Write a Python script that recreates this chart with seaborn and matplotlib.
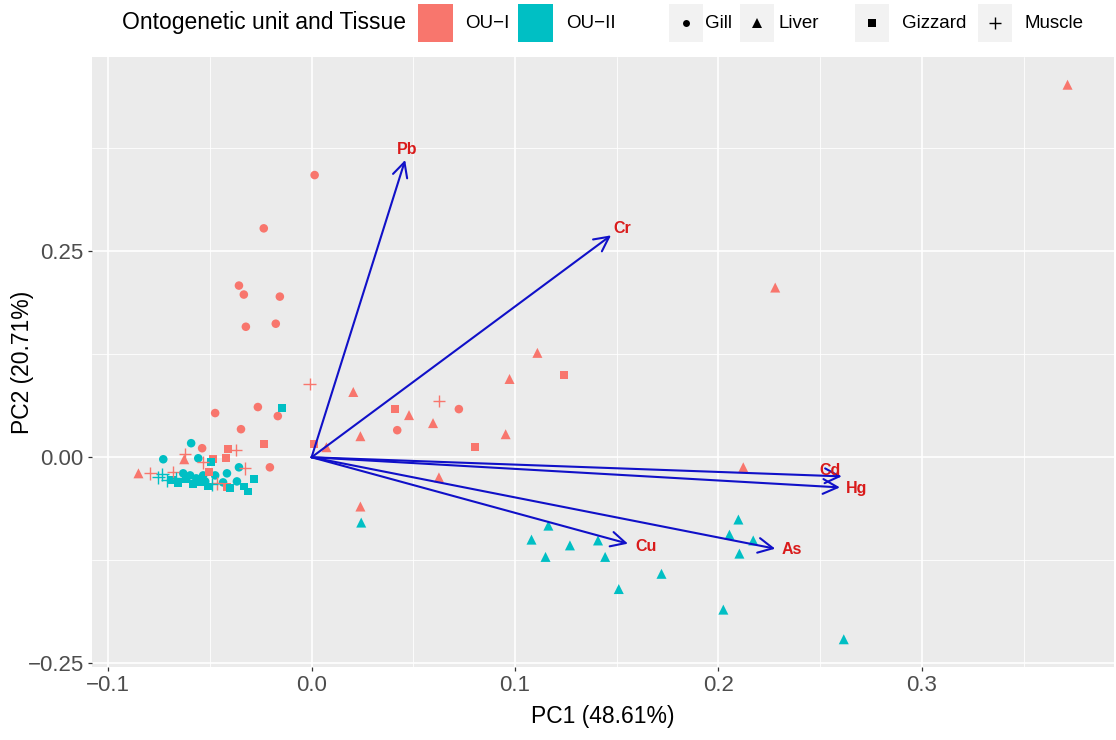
import numpy as np
import pandas as pd
import matplotlib
matplotlib.use("Agg")
import matplotlib.pyplot as plt
from matplotlib.patches import Rectangle
from matplotlib.lines import Line2D
import seaborn as sns

# ---------------- data ----------------
ou_levels = ["OU\u2212I", "OU\u2212II"]
tissue_levels = ["Gill", "Liver", "Gizzard", "Muscle"]

ou1_gill_pc1 = [0.0015, -0.0235, -0.0357, -0.0333, -0.0156, -0.0323, -0.0176, -0.0474, -0.0264, -0.0166, -0.0347, 0.0421, 0.0724, -0.0205, -0.0538]
ou1_gill_pc2 = [0.3427, 0.2780, 0.2085, 0.1976, 0.1951, 0.1585, 0.1622, 0.0537, 0.0610, 0.0500, 0.0341, 0.0329, 0.0585, -0.0122, 0.0110]

ou1_liver_pc1 = [0.3716, 0.2279, 0.1110, 0.0973, 0.0205, 0.0479, 0.0597, 0.0954, 0.0240, 0.0073, 0.2122, 0.0626, 0.0240, -0.0851, -0.0626]
ou1_liver_pc2 = [0.4524, 0.2061, 0.1268, 0.0951, 0.0793, 0.0512, 0.0415, 0.0280, 0.0256, 0.0122, -0.0122, -0.0244, -0.0598, -0.0195, -0.0024]

ou1_gizzard_pc1 = [0.1242, 0.0411, 0.0802, 0.0010, -0.0235, -0.0411, -0.0421, -0.0484, -0.0504, -0.0416]
ou1_gizzard_pc2 = [0.1000, 0.0585, 0.0122, 0.0159, 0.0159, 0.0098, -0.0012, -0.0024, -0.0183, -0.0366]

ou1_muscle_pc1 = [-0.0010, 0.0626, -0.0372, -0.0621, -0.0533, -0.0792, -0.0680, -0.0328, -0.0465]
ou1_muscle_pc2 = [0.0890, 0.0683, 0.0085, 0.0037, -0.0061, -0.0195, -0.0183, -0.0134, -0.0317]

ou2_gill_pc1 = [-0.0592, -0.0729, -0.0557, -0.0357, -0.0416, -0.0631, -0.0597, -0.0533, -0.0474, -0.0435, -0.0367, -0.0567, -0.0523]
ou2_gill_pc2 = [0.0171, -0.0024, -0.0012, -0.0122, -0.0195, -0.0195, -0.0220, -0.0220, -0.0220, -0.0305, -0.0293, -0.0256, -0.0293]

ou2_liver_pc1 = [0.1164, 0.1081, 0.1270, 0.1408, 0.1150, 0.1443, 0.1720, 0.1510, 0.2098, 0.2054, 0.2171, 0.2103, 0.2024, 0.2616, 0.0244]
ou2_liver_pc2 = [-0.0830, -0.1000, -0.1070, -0.1010, -0.1210, -0.1210, -0.1415, -0.1600, -0.0756, -0.0940, -0.1010, -0.1170, -0.1850, -0.2210, -0.0793]

ou2_gizzard_pc1 = [-0.0147, -0.0494, -0.0284, -0.0313, -0.0401, -0.0333, -0.0685, -0.0655, -0.0616, -0.0582, -0.0548, -0.0509]
ou2_gizzard_pc2 = [0.0598, -0.0061, -0.0268, -0.0415, -0.0378, -0.0354, -0.0280, -0.0317, -0.0268, -0.0329, -0.0305, -0.0354]

ou2_muscle_pc1 = [-0.0753, -0.0709, -0.0665, -0.0733, -0.0489]
ou2_muscle_pc2 = [-0.0244, -0.0280, -0.0256, -0.0207, -0.0329]

variables = ["Pb", "Cr", "Cd", "Hg", "As", "Cu"]
load_pc1 = [0.0460, 0.1472, 0.2606, 0.2597, 0.2279, 0.1555]
load_pc2 = [0.3610, 0.2695, -0.0232, -0.0366, -0.1110, -0.1049]

x_ticks = [-0.1, 0.0, 0.1, 0.2, 0.3]
y_ticks = [-0.25, 0.0, 0.25]
x_title = "PC1 (48.61%)"
y_title = "PC2 (20.71%)"
legend_title = "Ontogenetic unit and Tissue"

# ---------------- build table ----------------
groups = [
    (ou_levels[0], "Gill", ou1_gill_pc1, ou1_gill_pc2),
    (ou_levels[0], "Liver", ou1_liver_pc1, ou1_liver_pc2),
    (ou_levels[0], "Gizzard", ou1_gizzard_pc1, ou1_gizzard_pc2),
    (ou_levels[0], "Muscle", ou1_muscle_pc1, ou1_muscle_pc2),
    (ou_levels[1], "Gill", ou2_gill_pc1, ou2_gill_pc2),
    (ou_levels[1], "Liver", ou2_liver_pc1, ou2_liver_pc2),
    (ou_levels[1], "Gizzard", ou2_gizzard_pc1, ou2_gizzard_pc2),
    (ou_levels[1], "Muscle", ou2_muscle_pc1, ou2_muscle_pc2),
]
rows = []
for ou, t, xs, ys in groups:
    for a, b in zip(xs, ys):
        rows.append({"OU": ou, "Tissue": t, "PC1": a, "PC2": b})
df = pd.DataFrame(rows)

# ---------------- style ----------------
sns.set_theme(style="darkgrid", rc={
    "axes.facecolor": "#EBEBEB",
    "grid.color": "white",
    "figure.facecolor": "white",
})
plt.rcParams["font.family"] = ["Liberation Sans", "DejaVu Sans"]
plt.rcParams["axes.unicode_minus"] = True

palette = {ou_levels[0]: "#F8766D", ou_levels[1]: "#00BFC4"}
markers = {"Gill": "o", "Liver": "^", "Gizzard": "s", "Muscle": "+"}
sizes = {"Gill": 38, "Liver": 52, "Gizzard": 32, "Muscle": 80}

W, H = 1116, 740
fig = plt.figure(figsize=(W / 100, H / 100), dpi=100)
L, R, T, B = 92, 1114, 57, 667
ax = fig.add_axes([L / W, 1 - B / H, (R - L) / W, (B - T) / H])

for t in tissue_levels:
    sub = df[df["Tissue"] == t]
    kw = dict(linewidth=0) if t != "Muscle" else dict(linewidth=1.0)
    sns.scatterplot(data=sub, x="PC1", y="PC2", hue="OU", palette=palette,
                    hue_order=ou_levels, marker=markers[t], s=sizes[t],
                    legend=False, ax=ax, zorder=3, **kw)

# loading arrows
arrow_col = "#1010C8"
label_col = "#D91A1A"
label_offsets = {"Pb": (2, 10), "Cr": (11, 7), "Cd": (-12, 6), "Hg": (17, -1), "As": (17, -1), "Cu": (18, -3)}
for v, a, b in zip(variables, load_pc1, load_pc2):
    ax.annotate("", xy=(a, b), xytext=(0, 0),
                arrowprops=dict(arrowstyle="->,head_length=0.75,head_width=0.38",
                                color=arrow_col, lw=1.5, mutation_scale=14,
                                shrinkA=0, shrinkB=0), zorder=4)
    ax.annotate(v, xy=(a, b), xytext=label_offsets[v], textcoords="offset pixels",
                ha="center", va="center", color=label_col, fontsize=11.5,
                fontweight="bold", zorder=5)

# axes limits (ggplot 5% expansion)
xmin, xmax = df["PC1"].min(), df["PC1"].max()
ymin, ymax = df["PC2"].min(), df["PC2"].max()
dx, dy = (xmax - xmin) * 0.05, (ymax - ymin) * 0.05
ax.set_xlim(xmin - dx, xmax + dx)
ax.set_ylim(ymin - dy, ymax + dy)

ax.set_xticks(x_ticks)
ax.set_xticklabels([f"{v:.1f}".replace("-", "\u2212") for v in x_ticks])
ax.set_yticks(y_ticks)
ax.set_yticklabels([f"{v:.2f}".replace("-", "\u2212") for v in y_ticks])
ax.set_xticks([-0.05, 0.05, 0.15, 0.25, 0.35], minor=True)
ax.set_yticks([-0.125, 0.125, 0.375], minor=True)
ax.grid(which="major", color="white", linewidth=1.2)
ax.grid(which="minor", color="white", linewidth=0.6)
ax.set_axisbelow(True)
for s in ax.spines.values():
    s.set_visible(False)
ax.tick_params(which="major", length=3, width=0.9, color="#333333",
               labelcolor="#4D4D4D", labelsize=16, pad=3,
               bottom=True, left=True)
ax.tick_params(which="minor", length=0)
ax.set_xlabel(x_title, fontsize=16.5, color="black")
ax.set_ylabel(y_title, fontsize=16.5, color="black")
ax.xaxis.set_label_coords((603 - L) / (R - L), -(717 - B) / (B - T))
ax.yaxis.set_label_coords((22 - L) / (R - L), 0.5)
ax.xaxis.label.set_va("center")
ax.yaxis.label.set_va("center")

# ---------------- legend (top, horizontal) ----------------
def fx(px):
    return px / W

def fy(py):
    return 1 - py / H

ky0, ky1 = 4, 42
kyc = (ky0 + ky1) / 2
fig.text(fx(122), fy(kyc), legend_title, ha="left", va="center", fontsize=16.5, color="black")
for (x0, ou, tx) in [(418, ou_levels[0], 465), (518, ou_levels[1], 566)]:
    fig.add_artist(Rectangle((fx(x0), fy(ky1)), fx(35), (ky1 - ky0) / H,
                             transform=fig.transFigure, facecolor=palette[ou],
                             edgecolor="none"))
    fig.text(fx(tx), fy(kyc), ou, ha="left", va="center", fontsize=13.5, color="black")

shape_keys = [("Gill", 686, 705), ("Liver", 757, 778), ("Gizzard", 872, 902), ("Muscle", 995, 1025)]
key_ms = {"Gill": 5, "Liver": 7, "Gizzard": 5.5, "Muscle": 9}
for t, cx, tx in shape_keys:
    fig.add_artist(Rectangle((fx(cx - 17), fy(ky1)), fx(34), (ky1 - ky0) / H,
                             transform=fig.transFigure, facecolor="#F2F2F2",
                             edgecolor="none"))
    fig.add_artist(Line2D([fx(cx)], [fy(kyc)], transform=fig.transFigure,
                          marker=markers[t], markersize=key_ms[t], color="black",
                          markeredgewidth=1.0 if t == "Muscle" else 0, linestyle="none"))
    fig.text(fx(tx), fy(kyc), t, ha="left", va="center", fontsize=13.5, color="black")

fig.savefig("out.png", dpi=100)
